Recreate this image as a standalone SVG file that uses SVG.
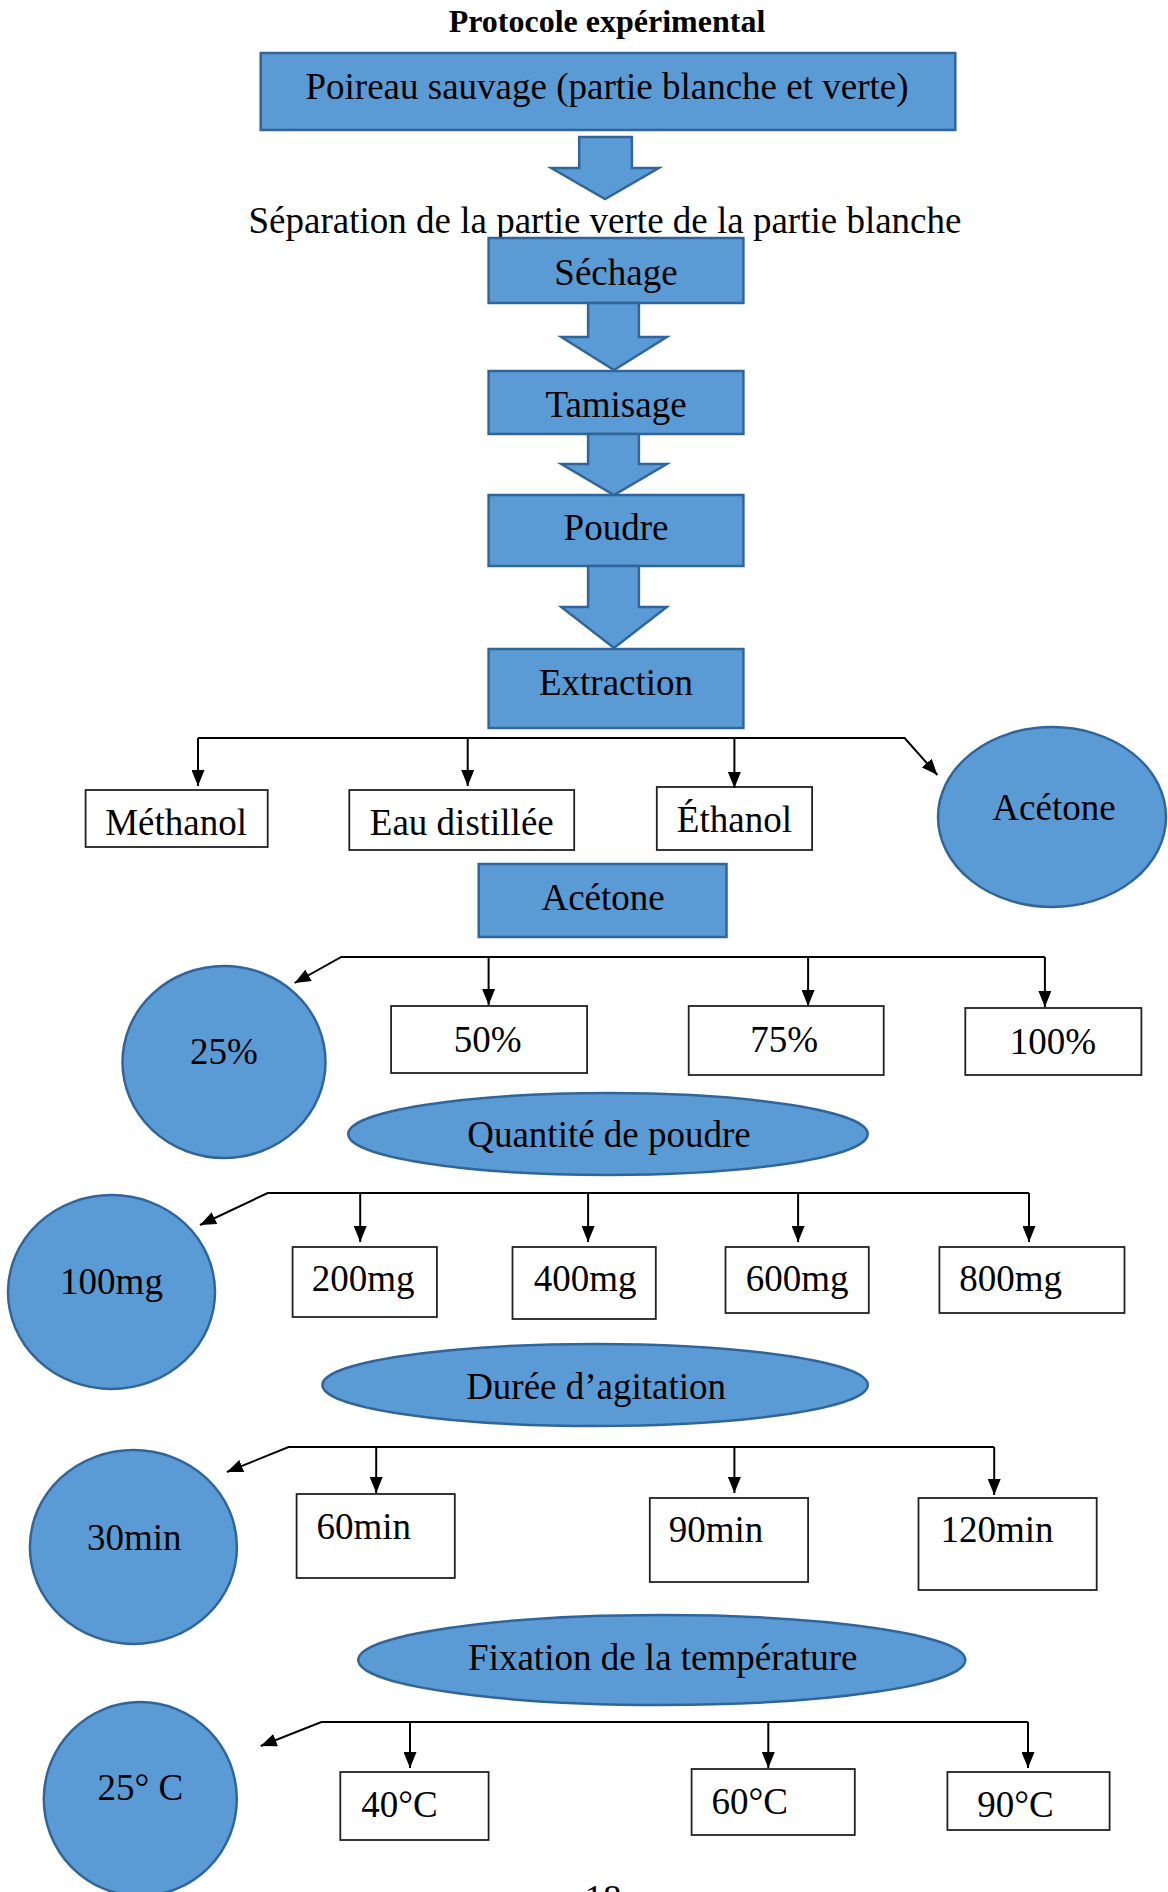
<svg xmlns="http://www.w3.org/2000/svg" width="1168" height="1892" viewBox="0 0 1168 1892">
<style>
text{font-family:"Liberation Serif","Times New Roman",serif;font-size:37px;fill:#000}
.c{text-anchor:middle}
.title{font-weight:bold;font-size:32px}
.blue{fill:#5B9BD5;stroke:#31659A;stroke-width:2.5}
.white{fill:#fff;stroke:#222;stroke-width:1.8}
.arr{fill:none;stroke:#000;stroke-width:2;marker-end:url(#ah)}
</style>
<defs>
<marker id="ah" markerUnits="userSpaceOnUse" markerWidth="17" markerHeight="13" refX="16" refY="6.5" orient="auto">
<path d="M0,0 L16,6.5 L0,13 z" fill="#000"/>
</marker>
</defs>
<rect width="1168" height="1892" fill="#fff"/>
<text class="c title" x="607" y="32">Protocole expérimental</text>

<g id="n-poireau"><rect class="blue" x="260.7" y="53" width="694.6" height="77"/><text class="c" x="607" y="99">Poireau sauvage (partie blanche et verte)</text></g>
<g id="n-separation"><text class="c" x="605" y="233">Séparation de la partie verte de la partie blanche</text></g>
<g id="n-sechage"><rect class="blue" x="488.6" y="238" width="254.8" height="65"/><text class="c" x="616" y="285">Séchage</text></g>
<g id="n-tamisage"><rect class="blue" x="488.6" y="371" width="254.8" height="63"/><text class="c" x="616" y="417">Tamisage</text></g>
<g id="n-poudre"><rect class="blue" x="488.6" y="495" width="254.8" height="71"/><text class="c" x="616" y="540">Poudre</text></g>
<g id="n-extraction"><rect class="blue" x="488.6" y="649" width="254.8" height="79"/><text class="c" x="616" y="695">Extraction</text></g>

<g id="n-methanol"><rect class="white" x="85.6" y="790" width="182.1" height="57"/><text class="c" x="176.1" y="835">Méthanol</text></g>
<g id="n-eau"><rect class="white" x="349.3" y="790" width="224.9" height="60"/><text class="c" x="461.8" y="835">Eau distillée</text></g>
<g id="n-ethanol"><rect class="white" x="656.8" y="787" width="155.3" height="63"/><text class="c" x="734.4" y="832">Éthanol</text></g>
<g id="n-acetone-e"><ellipse class="blue" cx="1052" cy="817" rx="114" ry="90"/><text class="c" x="1054" y="820">Acétone</text></g>
<g id="n-acetone"><rect class="blue" x="478.7" y="864" width="247.8" height="73"/><text class="c" x="603.1" y="910">Acétone</text></g>

<g id="n-25"><ellipse class="blue" cx="224" cy="1062" rx="101.5" ry="96"/><text class="c" x="224" y="1064">25%</text></g>
<g id="n-50"><rect class="white" x="391.1" y="1006" width="196" height="67"/><text class="c" x="487.6" y="1052">50%</text></g>
<g id="n-75"><rect class="white" x="688.7" y="1006" width="195" height="69"/><text class="c" x="784.2" y="1052">75%</text></g>
<g id="n-100"><rect class="white" x="965.3" y="1008" width="176.1" height="67"/><text class="c" x="1052.9" y="1054">100%</text></g>
<g id="n-quantite"><ellipse class="blue" cx="608" cy="1134" rx="259.7" ry="41"/><text class="c" x="609" y="1147">Quantité de poudre</text></g>

<g id="n-100mg"><ellipse class="blue" cx="111.5" cy="1292" rx="103.5" ry="97"/><text class="c" x="111.5" y="1294">100mg</text></g>
<g id="n-200mg"><rect class="white" x="292.6" y="1247" width="144.3" height="70"/><text class="c" x="363.2" y="1291">200mg</text></g>
<g id="n-400mg"><rect class="white" x="512.5" y="1247" width="143.3" height="72"/><text class="c" x="585.2" y="1291">400mg</text></g>
<g id="n-600mg"><rect class="white" x="725.5" y="1247" width="143.3" height="66"/><text class="c" x="797.1" y="1291">600mg</text></g>
<g id="n-800mg"><rect class="white" x="939.4" y="1247" width="185.1" height="66"/><text x="959.3" y="1291">800mg</text></g>
<g id="n-duree"><ellipse class="blue" cx="595.1" cy="1385" rx="272.7" ry="41"/><text class="c" x="596.1" y="1399">Durée d’agitation</text></g>

<g id="n-30min"><ellipse class="blue" cx="133.4" cy="1547" rx="103.5" ry="97"/><text class="c" x="134.3" y="1550">30min</text></g>
<g id="n-60min"><rect class="white" x="296.6" y="1494" width="158.2" height="84"/><text x="316.5" y="1539">60min</text></g>
<g id="n-90min"><rect class="white" x="649.8" y="1498" width="158.3" height="84"/><text x="668.7" y="1542">90min</text></g>
<g id="n-120min"><rect class="white" x="918.5" y="1498" width="178.2" height="92"/><text x="940.4" y="1542">120min</text></g>
<g id="n-fixation"><ellipse class="blue" cx="661.8" cy="1660" rx="303.5" ry="45"/><text class="c" x="662.8" y="1670">Fixation de la température</text></g>

<g id="n-25c"><ellipse class="blue" cx="140.3" cy="1799" rx="96.5" ry="97"/><text class="c" x="140.3" y="1800">25° C</text></g>
<g id="n-40c"><rect class="white" x="340.3" y="1772" width="148.3" height="68"/><text x="361.2" y="1817">40°C</text></g>
<g id="n-60c"><rect class="white" x="691.6" y="1769" width="163.2" height="66"/><text x="711.5" y="1814">60°C</text></g>
<g id="n-90c"><rect class="white" x="947.4" y="1772" width="162.2" height="58"/><text x="977.2" y="1817">90°C</text></g>

<text class="c" x="603" y="1911">18</text>

<g id="connectors">
<polygon class="blue" points="579.2,137 631.9,137 631.9,168 658.8,168 605.1,199 551.3,168 579.2,168"/>
<polygon class="blue" points="588.1,303 638.9,303 638.9,337 666.8,337 614,370 561.3,337 588.1,337"/>
<polygon class="blue" points="588.1,434 638.9,434 638.9,464 666.8,464 614,495 561.3,464 588.1,464"/>
<polygon class="blue" points="588.1,566 638.9,566 638.9,607 666.8,607 614,648 561.3,607 588.1,607"/>

<polyline class="arr" points="198,738 904.6,738 937.4,775"/>
<line class="arr" x1="198" y1="738" x2="198" y2="786"/>
<line class="arr" x1="467.7" y1="738" x2="467.7" y2="786"/>
<line class="arr" x1="734.4" y1="738" x2="734.4" y2="788"/>

<polyline class="arr" points="1044.9,957 341.3,957 294.6,983"/>
<line class="arr" x1="488.6" y1="957" x2="488.6" y2="1005"/>
<line class="arr" x1="808.1" y1="957" x2="808.1" y2="1006"/>
<line class="arr" x1="1044.9" y1="957" x2="1044.9" y2="1007"/>

<polyline class="arr" points="1029,1193 267.7,1193 200,1225"/>
<line class="arr" x1="360.2" y1="1193" x2="360.2" y2="1242"/>
<line class="arr" x1="588.1" y1="1193" x2="588.1" y2="1242"/>
<line class="arr" x1="798.1" y1="1193" x2="798.1" y2="1242"/>
<line class="arr" x1="1029" y1="1193" x2="1029" y2="1242"/>

<polyline class="arr" points="994.2,1447 288.6,1447 226.9,1472"/>
<line class="arr" x1="376.2" y1="1447" x2="376.2" y2="1493"/>
<line class="arr" x1="734.4" y1="1447" x2="734.4" y2="1493"/>
<line class="arr" x1="994.2" y1="1447" x2="994.2" y2="1495"/>

<polyline class="arr" points="1028,1722 321.4,1722 260.7,1746"/>
<line class="arr" x1="410" y1="1722" x2="410" y2="1768"/>
<line class="arr" x1="768.3" y1="1722" x2="768.3" y2="1768"/>
<line class="arr" x1="1028" y1="1722" x2="1028" y2="1768"/>
</g>
</svg>
